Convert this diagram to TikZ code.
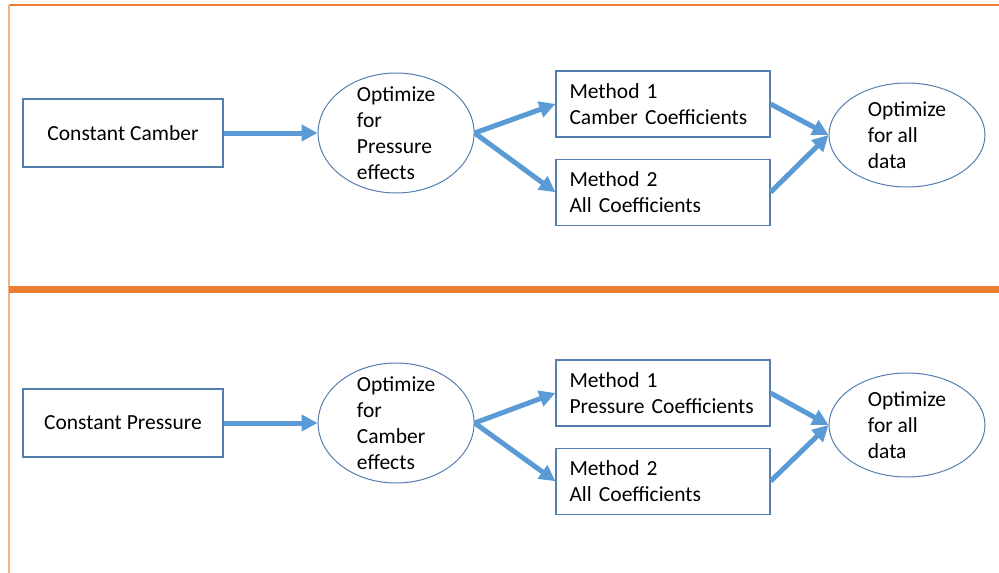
\documentclass[tikz,border=0pt]{standalone}
\usepackage{fontspec}
\setmainfont{Carlito}
\usepackage{xcolor}
\usetikzlibrary{arrows.meta, positioning, shapes.geometric}

\definecolor{arrowblue}{RGB}{91,155,213}
\definecolor{edgeblue}{RGB}{84,126,174}
\definecolor{lineorange}{RGB}{237,125,49}
\definecolor{paleorange}{RGB}{244,177,131}
\hyphenpenalty=10000

\begin{document}
\begin{tikzpicture}[x=1pt, y=-1pt,
      font=\fontsize{21.5}{26}\selectfont,
      box/.style={draw=edgeblue, line width=1.2pt, minimum width=200pt, minimum height=68pt},
      method/.style={draw=edgeblue, line width=1.2pt, minimum width=214pt, minimum height=66pt, text width=187pt, inner xsep=0pt, align=left},
      oval/.style={draw=edgeblue, line width=1pt, ellipse, align=left, inner xsep=0pt, inner ysep=-12pt, minimum width=156pt, minimum height=120pt},
      result/.style={oval, minimum height=104pt},
      arr/.style={-{Triangle[length=16pt, width=16pt]}, line width=5pt, arrowblue}
    ]
    \useasboundingbox (0,0) rectangle (999,573);

    % frame and separator
    \draw[lineorange, line width=1.2pt] (9,5) -- (999,5);
    \draw[paleorange, line width=2pt] (9,5) -- (9,573);
    \draw[lineorange, line width=7pt] (9,289.5) -- (999,289.5);

    % constant camber
    \node[box] (camber) at (123,133) {Constant Camber};
    \node[oval, right=94pt of camber] (optpres) {Optimize\\for\\Pressure\\effects};
    \node[method] (camm1) at (663,104) {Method 1\\Camber Coefficients};
    \node[method, below=21pt of camm1] (camm2) {Method 2\\All Coefficients};
    \node[result] (camall) at (907,135) {Optimize\\for all\\data};

    \draw[arr] (camber) -- (optpres);
    \draw[arr] (optpres.east) -- (camm1.west);
    \draw[arr] (optpres.east) -- (camm2.west);
    \draw[arr] (camm1.east) -- (camall.west);
    \draw[arr] (camm2.east) -- (camall.west);

    % constant pressure
    \node[box] (pressure) at (123,423) {Constant Pressure};
    \node[oval, right=94pt of pressure] (optcam) {Optimize\\for\\Camber\\effects};
    \node[method] (presm1) at (663,393) {Method 1\\Pressure Coefficients};
    \node[method, below=21pt of presm1] (presm2) {Method 2\\All Coefficients};
    \node[result] (presall) at (907,425) {Optimize\\for all\\data};

    \draw[arr] (pressure) -- (optcam);
    \draw[arr] (optcam.east) -- (presm1.west);
    \draw[arr] (optcam.east) -- (presm2.west);
    \draw[arr] (presm1.east) -- (presall.west);
    \draw[arr] (presm2.east) -- (presall.west);
  \end{tikzpicture}
\end{document}
